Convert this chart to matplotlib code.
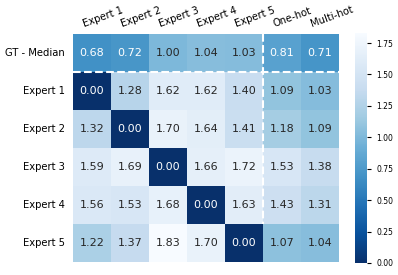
import numpy as np
import matplotlib
matplotlib.use("Agg")
import matplotlib.pyplot as plt
import matplotlib.transforms as mtransforms
import seaborn as sns

# Zeilen / Spalten
row_labels = ["GT - Median", "Expert 1", "Expert 2", "Expert 3", "Expert 4", "Expert 5"]
col_labels = ["Expert 1", "Expert 2", "Expert 3", "Expert 4", "Expert 5", "One-hot", "Multi-hot"]

gt_median = [0.68, 0.72, 1.00, 1.04, 1.03, 0.81, 0.71]
expert_1 = [0.00, 1.28, 1.62, 1.62, 1.40, 1.09, 1.03]
expert_2 = [1.32, 0.00, 1.70, 1.64, 1.41, 1.18, 1.09]
expert_3 = [1.59, 1.69, 0.00, 1.66, 1.72, 1.53, 1.38]
expert_4 = [1.56, 1.53, 1.68, 0.00, 1.63, 1.43, 1.31]
expert_5 = [1.22, 1.37, 1.83, 1.70, 0.00, 1.07, 1.04]

werte = np.array([gt_median, expert_1, expert_2, expert_3, expert_4, expert_5])

fig = plt.figure(figsize=(3.98, 2.75), dpi=100)
ax = fig.add_axes([73 / 398, 1 - 262 / 275, 266 / 398, 228 / 275])
cax = fig.add_axes([355 / 398, 1 - 263 / 275, 12 / 398, 230 / 275])

sns.heatmap(werte, ax=ax, cbar_ax=cax, cmap="Blues_r", vmin=0,
            annot=True, fmt=".2f", annot_kws={"fontsize": 8},
            linewidths=0,
            xticklabels=col_labels, yticklabels=row_labels)

# Trennlinien: GT-Zeile und Modell-Spalten (vertikal nur bis Expert 4)
ax.axhline(1, color="white", linestyle="--", linewidth=1.5)
ax.plot([5, 5], [0, 5], color="white", linestyle="--", linewidth=1.5)

ax.xaxis.tick_top()
ax.tick_params(axis="both", length=0, labelsize=7.2)
ax.tick_params(axis="y", pad=6)
verschiebung = mtransforms.ScaledTranslation(-7 / 100, 0, fig.dpi_scale_trans)
for lbl in ax.get_xticklabels():
    lbl.set_rotation(20)
    lbl.set_ha("left")
    lbl.set_rotation_mode("anchor")
    lbl.set_transform(lbl.get_transform() + verschiebung)
plt.setp(ax.get_yticklabels(), rotation=0)

cax.tick_params(labelsize=5.5, length=3)
cax.set_yticks([0, 0.25, 0.5, 0.75, 1.0, 1.25, 1.5, 1.75])
cax.set_yticklabels(["0.00", "0.25", "0.50", "0.75", "1.00", "1.25", "1.50", "1.75"])
for s in cax.spines.values():
    s.set_visible(False)

fig.savefig("out.png", dpi=100)
